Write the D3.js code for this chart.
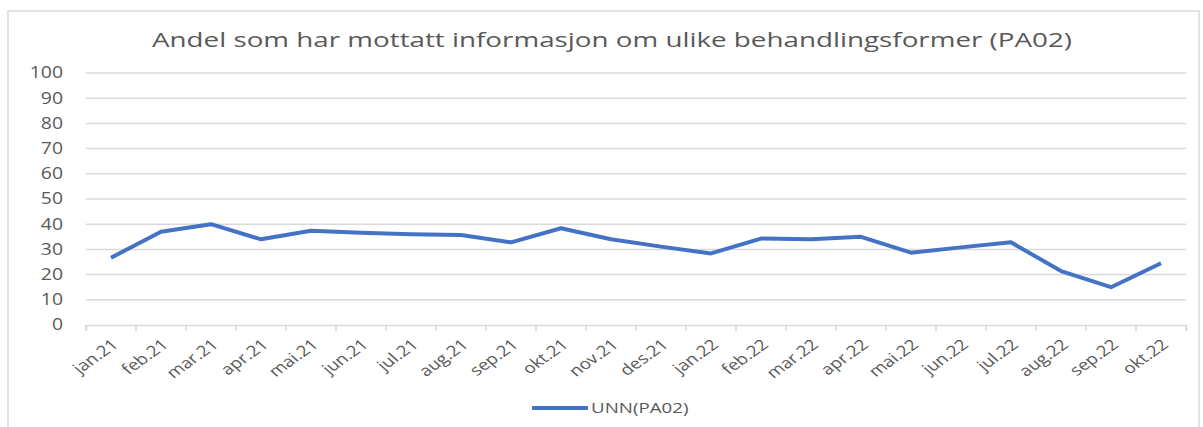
<!DOCTYPE html>
<html>
<head>
<meta charset="utf-8">
<script src="https://cdn.jsdelivr.net/npm/d3@7"></script>
<style>
  body { margin: 0; background: #fff; }
  svg text { font-family: "Open Sans", sans-serif; fill: #595959; }
</style>
</head>
<body>
<div id="chart"></div>
<script>
// data
const months = ["jan.21","feb.21","mar.21","apr.21","mai.21","jun.21","jul.21","aug.21","sep.21","okt.21","nov.21","des.21",
                "jan.22","feb.22","mar.22","apr.22","mai.22","jun.22","jul.22","aug.22","sep.22","okt.22"];
const unnValues = [26.7, 37.0, 40.0, 34.0, 37.4, 36.6, 36.0, 35.7, 32.8, 38.4, 34.0, 31.1,
                   28.4, 34.3, 34.0, 35.0, 28.7, 30.8, 32.8, 21.4, 15.0, 24.5];
const yTicks = [0,10,20,30,40,50,60,70,80,90,100];
const seriesName = "UNN(PA02)";
const title = "Andel som har mottatt informasjon om ulike behandlingsformer (PA02)";

const width = 1203, height = 427;
const margin = {top: 73, right: 17, bottom: 102, left: 86};
const stretch = 1.25; // the original picture is a bit wider than tall

const svg = d3.select("#chart").append("svg")
  .attr("width", width)
  .attr("height", height);

// chart frame
svg.append("rect")
  .attr("x", 8).attr("y", 11)
  .attr("width", 1191).attr("height", 440)
  .attr("fill", "none")
  .attr("stroke", "#d9d9d9")
  .attr("stroke-width", 1.5);

const x = d3.scaleBand()
  .domain(months)
  .range([margin.left, width - margin.right]);

const y = d3.scaleLinear()
  .domain([0, 100])
  .range([height - margin.bottom, margin.top]);

// gridlines
svg.append("g").selectAll("line")
  .data(yTicks.filter(d => d > 0))
  .enter().append("line")
  .attr("x1", margin.left).attr("x2", width - margin.right)
  .attr("y1", d => y(d)).attr("y2", d => y(d))
  .attr("stroke", "#d9d9d9")
  .attr("stroke-width", 1.5);

// y axis labels
svg.append("g").selectAll("text")
  .data(yTicks)
  .enter().append("text")
  .attr("class", "stretch")
  .attr("x", 63)
  .attr("y", d => y(d))
  .attr("dy", "0.35em")
  .attr("text-anchor", "end")
  .style("font-size", "15.5px")
  .text(d => d);

// x axis
const xAxis = g => g
  .attr("transform", `translate(0,${y(0)})`)
  .call(d3.axisBottom(x).tickSize(6).tickSizeOuter(6).tickFormat(""))
  .call(g => g.selectAll("line, path").attr("stroke", "#d9d9d9").attr("stroke-width", 1.5))
  .call(g => g.selectAll(".tick line").attr("transform", d => `translate(${-x.bandwidth()/2},0)`));
svg.append("g").call(xAxis);
// last tick at right end
svg.append("line")
  .attr("x1", width - margin.right).attr("x2", width - margin.right)
  .attr("y1", y(0)).attr("y2", y(0) + 6)
  .attr("stroke", "#d9d9d9").attr("stroke-width", 1.5);

// month labels: rotated then widened like the original
svg.append("g").selectAll("text")
  .data(months)
  .enter().append("text")
  .attr("transform", d => `translate(${x(d) + x.bandwidth()/2 + 4},${y(0) + 17}) scale(${stretch},1) rotate(-42)`)
  .attr("text-anchor", "end")
  .attr("dy", "0.35em")
  .style("font-size", "15px")
  .text(d => d);

// the line
const line = d3.line()
  .x((d, i) => x(months[i]) + x.bandwidth()/2)
  .y(d => y(d));

svg.append("path")
  .datum(unnValues)
  .attr("d", line)
  .attr("fill", "none")
  .attr("stroke", "#4472c4")
  .attr("stroke-width", 4)
  .attr("stroke-linejoin", "round");

// title
svg.append("text")
  .attr("x", 612).attr("y", 47)
  .attr("text-anchor", "middle")
  .attr("textLength", 920)
  .attr("lengthAdjust", "spacingAndGlyphs")
  .style("font-size", "19.5px")
  .text(title);

// legend
svg.append("line")
  .attr("x1", 532).attr("x2", 588)
  .attr("y1", 408).attr("y2", 408)
  .attr("stroke", "#4472c4")
  .attr("stroke-width", 4);
svg.append("text")
  .attr("class", "stretch")
  .attr("x", 591).attr("y", 408)
  .attr("dy", "0.35em")
  .style("font-size", "15px")
  .text(seriesName);

// widen texts a bit to match the original proportions
svg.selectAll("text.stretch").each(function() {
  const w = this.getComputedTextLength();
  d3.select(this).attr("textLength", w * stretch).attr("lengthAdjust", "spacingAndGlyphs");
});
</script>
</body>
</html>
